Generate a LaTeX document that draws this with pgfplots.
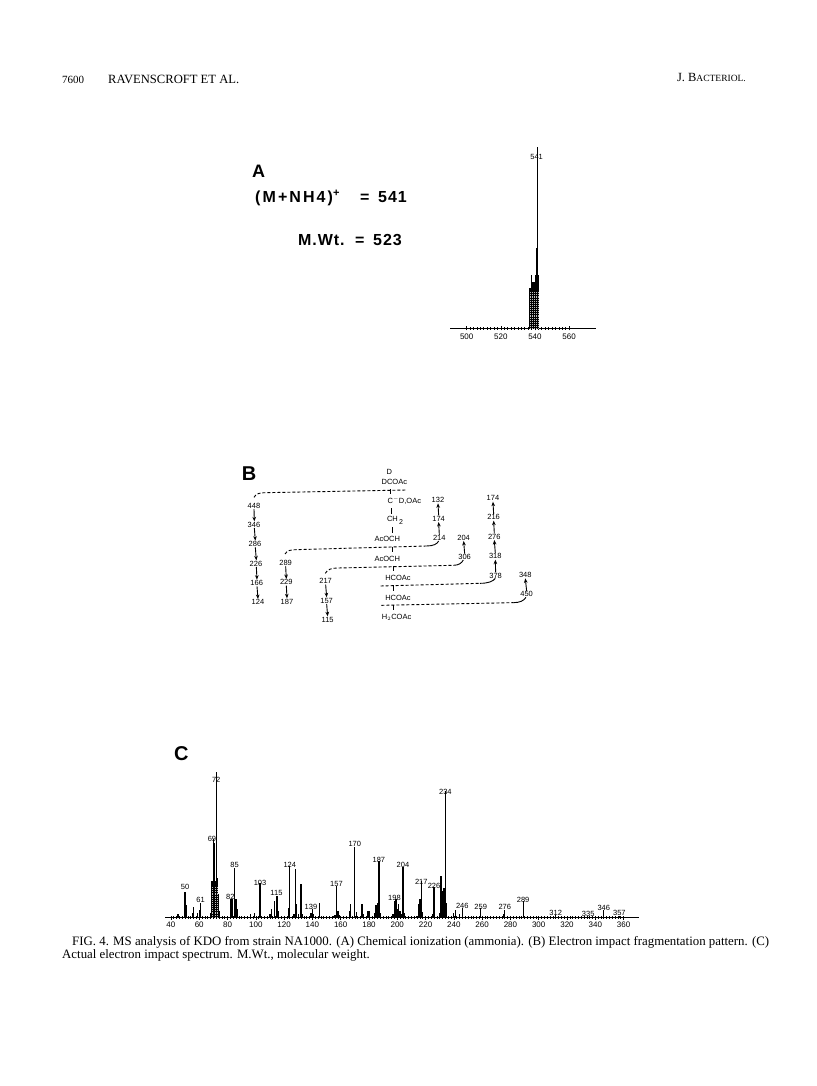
\documentclass[border=0pt]{standalone}
\usepackage{fontspec}
\setmainfont{Liberation Serif}
\newfontfamily\hv{Liberation Sans}
\newfontfamily\hvs[LetterSpace=6]{Liberation Sans}
\newfontfamily\hvw[LetterSpace=13]{Liberation Sans}
\usepackage{pgfplots}
\usepackage{pgfplotstable}
\usetikzlibrary{arrows.meta}
\pgfplotsset{compat=1.18}
% heights are given in units of 1/3 px above the baseline
\pgfplotstableread{
x h
45 10
46 6
50 78
51 38
55 15
56 33
59 15
60 22
61 43
68 15
69 110
69.5 105
70 235
70.5 110
71 225
71.5 110
72 438
72.5 110
73 120
73.5 70
74 20
82 55
82.6 55
83.2 55
85 150
86 55
87 25
96 10
99 15
103 105
110 12
111 25
113 50
115 65
116 20
123 30
124 155
127 12
128 145
129 40
130 12
132 100
133 10
139 15
140 25
141 10
145 45
155 5
156 8
157 95
158 20
159 8
166 20
167 40
170 213
171 18
175 42
176 12
179 20
180 20
184 15
185 38
186 45
187 170
188 15
197 10
198 50
198.5 20
199 55
199.5 20
200 25
200.5 20
201 42
201.5 20
202 20
203 10
204 153
205 15
208 5
214 5
215 40
216 55
217 110
218 18
225 12
226 92
230 15
231 125
231.5 70
232 80
232.5 70
233 90
233.5 60
234 380
234.5 45
235 45
240 15
241 22
244 12
246 28
259 28
275 10
276 22
289 50
312 8
335 3
346 22
357 5
}\specC
\pgfplotstableread{
x h
537 120
537.6 120
538 160
538.6 140
539 140
539.6 140
540 140
540.6 160
541 240
541.6 545
542.2 160
}\specA
\pgfplotstableread{
x h
537.3 110
538.4 110
539.5 110
540.6 110
541.7 110
}\stipA
\pgfplotstableread{
x h
69.5 95
71 95
72.5 95
}\stipC
\pgfplotsset{spec/.style={
  scale only axis, clip=false,
  axis y line=none, axis x line=bottom,
  axis line style={-,line width=0.7pt},
  ymin=0,
  tick align=center,
  major tick length=4pt, minor tick length=2.5pt,
  tick style={black,line width=0.6pt},
  minor x tick num=9,
  /pgf/number format/assume math mode=true,
  /pgf/number format/set thousands separator={},
  tick label style={font=\hv\fontsize{8}{9}\selectfont},
}}
\begin{document}
\begin{tikzpicture}
\path[use as bounding box,fill=white] (0pt,0pt) rectangle (816pt,-1086pt);

% Panel A spectrum
\begin{axis}[spec,at={(450pt,-328.3pt)},anchor=origin,width=146pt,height=181.7pt,
  xmin=490.2,xmax=575.8,ymax=545,xtick={500,520,540,560},xticklabel style={yshift=-0.5pt}]
\addplot[ycomb,black,line width=1.3pt] table[x=x,y=h]{\specA};
\addplot[ycomb,gray!50,line width=0.35pt,dash pattern=on 0.5pt off 1.4pt] table[x=x,y=h]{\stipA};
\node[font=\hv\fontsize{7.5}{8}\selectfont,inner sep=0pt] at (axis cs:541,515) {541};
\end{axis}

% Panel C spectrum
\begin{axis}[spec,at={(165pt,-917.7pt)},anchor=origin,width=474pt,height=146pt,
  xmin=35.8,xmax=370.9,ymax=438,xtick={40,60,...,360},xticklabel style={yshift=1pt}]
\addplot[ycomb,black,line width=1.3pt] table[x=x,y=h]{\specC};
\addplot[ycomb,gray!50,line width=0.35pt,dash pattern=on 0.5pt off 1.4pt] table[x=x,y=h]{\stipC};
\foreach \xx/\yy/\lab in {50/91/50,61/53/61,69/235/69,72/413/72,82/63/82,85/158/85,103/105/103,114.6/75/115,124/158/124,139/31/139,157/102/157,170/221/170,187/174/187,198/59/198,204/158/204,217/106/217,226/94/226,234/378/234,246/36/246,259/33/259,276/33/276,289/54/289,312/14/312,335/11/335,346/30/346,357/15/357}{
  \edef\temp{\noexpand\node[font=\noexpand\hv\noexpand\fontsize{7.5}{8}\noexpand\selectfont,inner sep=0pt] at (axis cs:\xx,\yy) {\lab};}
  \temp
}
\end{axis}

\begin{scope}[x=1pt,y=-1pt]
% page header
\node[anchor=base west,inner sep=0pt,font=\fontsize{11}{12}\selectfont] at (62,83.3) {7600};
\node[anchor=base west,inner sep=0pt,font=\fontsize{12.6}{14}\selectfont] at (108,83.3) {RAVENSCROFT ET AL.};
\node[anchor=base east,inner sep=0pt,font=\fontsize{12.5}{14}\selectfont] at (746,82) {J. B{\fontsize{9.5}{11}\selectfont ACTERIOL.}};

% Panel A text
\node[anchor=base west,inner sep=0pt,font=\hv\bfseries\fontsize{18}{20}\selectfont] at (252,178) {A};
\node[anchor=base west,inner sep=0pt,font=\hvw\bfseries\fontsize{16}{18}\selectfont] at (255,203) {(M+NH4)\raisebox{6pt}{\fontsize{11}{12}\selectfont +}};
\node[anchor=base west,inner sep=0pt,font=\hvs\bfseries\fontsize{16}{18}\selectfont] at (360,203) {=};
\node[anchor=base west,inner sep=0pt,font=\hvs\bfseries\fontsize{16}{18}\selectfont] at (378,203) {541};
\node[anchor=base west,inner sep=0pt,font=\hvs\bfseries\fontsize{16}{18}\selectfont] at (298,245.7) {M.Wt.};
\node[anchor=base west,inner sep=0pt,font=\hvs\bfseries\fontsize{16}{18}\selectfont] at (355,245.7) {=};
\node[anchor=base west,inner sep=0pt,font=\hvs\bfseries\fontsize{16}{18}\selectfont] at (373,245.7) {523};

% Panel C letter
\node[anchor=base west,inner sep=0pt,font=\hv\bfseries\fontsize{20}{22}\selectfont] at (174,760) {C};

% caption
\node[anchor=base west,inner sep=0pt,font=\fontsize{12.85}{14}\selectfont] at (72,945) {FIG. 4. MS analysis of KDO from strain NA1000. (A) Chemical ionization (ammonia). (B) Electron impact fragmentation pattern. (C)};
\node[anchor=base west,inner sep=0pt,font=\fontsize{12.85}{14}\selectfont] at (62,958) {Actual electron impact spectrum. M.Wt., molecular weight.};

% Panel B: coordinates below are in zoomed units (3 per px)
\begin{scope}[shift={(230,460)},x=0.3333pt,y=-0.3333pt,every node/.style={inner sep=0pt,font=\hv\fontsize{7.5}{8}\selectfont}]
\node[font=\hv\bfseries\fontsize{20}{22}\selectfont] at (57,40) {B};
\foreach \xx/\yy/\lab in {478/35/D,493/65/DCOAc,523/122/{C$^{-}$D,OAc},495/182/{CH\raisebox{-3pt}{\,\scriptsize 2}},472/238/AcOCH,472/297/AcOCH,504/355/HCOAc,504/413/HCOAc,500/472/{H$_2$COAc},
 72/137/448,72/194/346,75/252/286,78/311/226,80/369/166,84/427/124,
 167/309/289,169/367/229,171/425/187,
 628/235/214,626/176/174,624/120/132,
 287/364/217,290/422/157,293/479/115,
 704/291/306,701/233/204,
 797/347/378,796/289/318,793/230/276,791/172/216,789/115/174,
 890/403/450,886/345/348}{
  \node at (\xx,\yy) {\lab};
}
\draw[line width=0.8pt] (481,88)--(481,102) (483,145)--(483,162) (486,202)--(486,218) (488,260)--(488,276) (490,318)--(490,334) (491,376)--(491,392) (491,434)--(491,450);
\begin{scope}[line width=0.9pt]
\draw[dash pattern=on 3pt off 2pt] (72,112) .. controls (78,100) and (90,98) .. (110,98) -- (530,90);
\draw[dash pattern=on 3pt off 2pt] (165,282) .. controls (172,272) and (180,269) .. (200,269) -- (590,258);
\draw (590,258) .. controls (610,258) and (622,252) .. (626,243);
\draw[dash pattern=on 3pt off 2pt] (286,340) .. controls (292,328) and (305,324) .. (325,324) -- (670,316);
\draw (670,316) .. controls (685,316) and (695,310) .. (700,300);
\draw[dash pattern=on 3pt off 2pt] (452,378) -- (750,370);
\draw (750,370) .. controls (775,370) and (790,364) .. (796,355);
\draw[dash pattern=on 3pt off 2pt] (454,436) -- (850,428);
\draw (850,428) .. controls (870,428) and (882,422) .. (888,412);
\end{scope}
\begin{scope}[line width=0.9pt,-{Stealth[length=4.5pt,width=3.6pt]}]
\foreach \xa/\ya/\xb/\yb in {72/147/73/184,73/204/76/242,76/262/79/301,79/321/81/359,81/379/84/417,
 167/319/169/357,169/377/171/415,
 287/374/290/412,290/432/293/469}{
  \draw (\xa,\ya)--(\xb,\yb);
}
\foreach \xa/\ya/\xb/\yb in {628/225/626/186,626/166/624/130,
 704/281/701/243,
 797/337/796/299,796/279/793/240,793/220/791/182,791/162/789/125,
 890/393/886/355}{
  \draw (\xa,\ya)--(\xb,\yb);
}
\end{scope}
\end{scope}
\end{scope}
\end{tikzpicture}
\end{document}
